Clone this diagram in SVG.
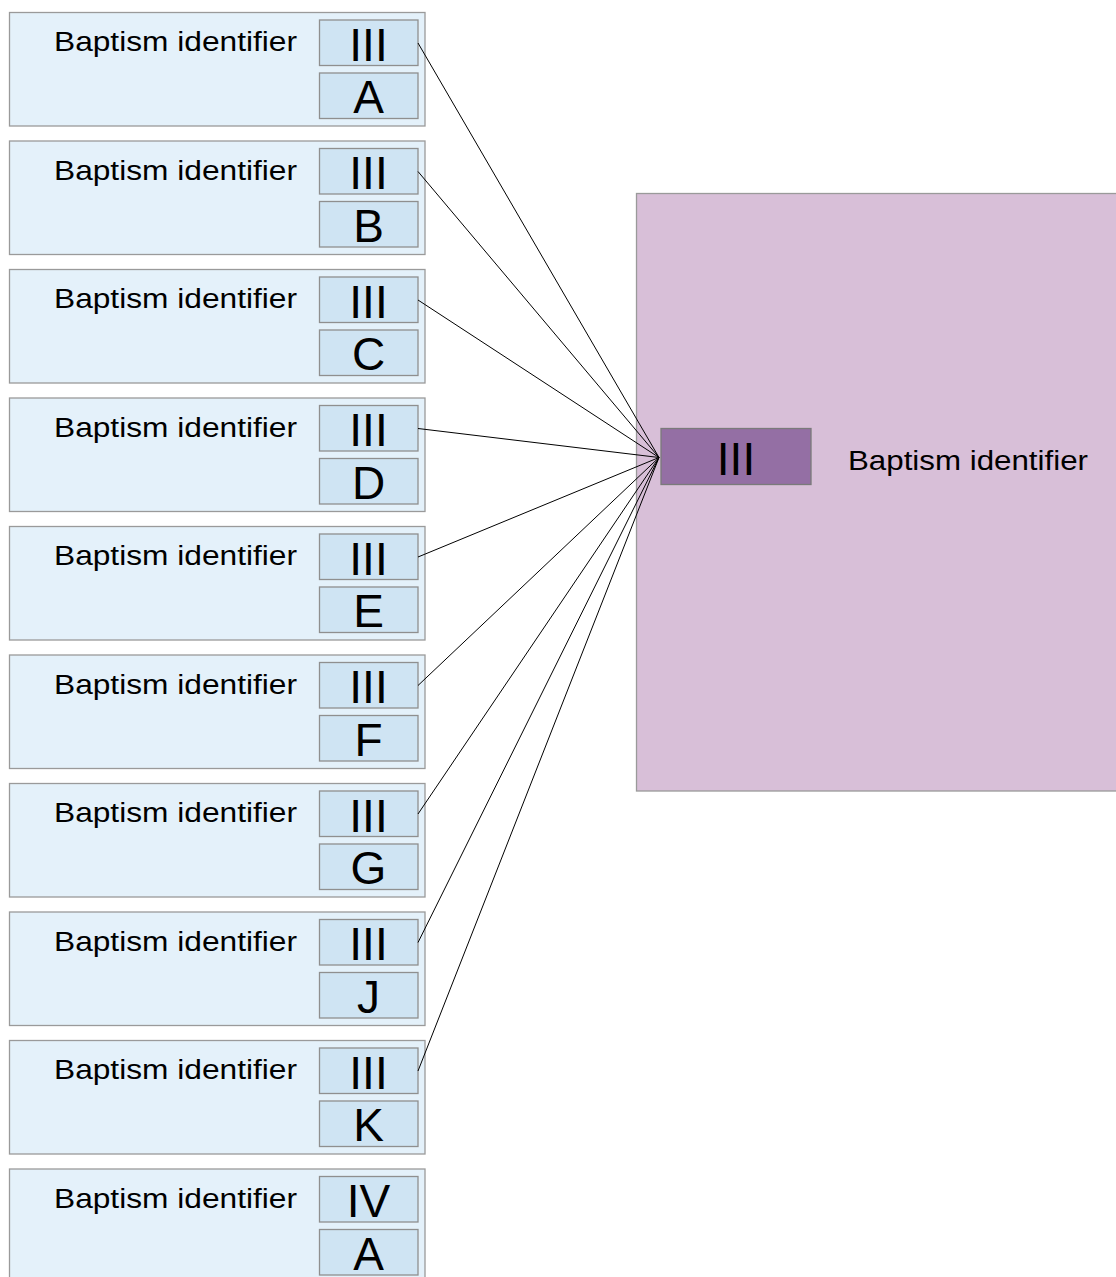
<svg xmlns="http://www.w3.org/2000/svg" width="1116" height="1277" viewBox="0 0 1116 1277">
<style>
.outer{fill:#e4f1fa;stroke:#9a9a9a;stroke-width:1.3}
.inner{fill:#cfe4f3;stroke:#8f8f8f;stroke-width:1.3}
.lbl{font-family:"Liberation Sans",Arial,sans-serif;font-size:27.5px;fill:#000}
.big{font-family:"Liberation Sans",Arial,sans-serif;font-size:46px;fill:#000;text-anchor:middle}
.conn{stroke:#000;stroke-width:1;fill:none}
</style>
<defs>
<rect id="ob" class="outer" x="9.5" y="0" width="415.5" height="113.5"/>
<rect id="ib1" class="inner" x="319.5" y="7.5" width="98.5" height="45.5"/>
<rect id="ib2" class="inner" x="319.5" y="60.5" width="98.5" height="45.5"/>
</defs>
<g id="target">
<rect x="636.5" y="193.5" width="490" height="597.5" fill="#d8bfd8" stroke="#9a9a9a" stroke-width="1.3"/>
<rect x="661" y="428.5" width="150" height="56" fill="#946fa4" stroke="#7a7a7a" stroke-width="1.3"/>
<text class="big" x="736" y="475">III</text>
<text class="lbl" x="848" y="470" textLength="240" lengthAdjust="spacingAndGlyphs">Baptism identifier</text>
</g>
<g id="n1" transform="translate(0,12.5)"><use href="#ob"/><use href="#ib1"/><use href="#ib2"/><text class="lbl" x="54" y="38.5" textLength="243" lengthAdjust="spacingAndGlyphs">Baptism identifier</text><text class="big" x="368.5" y="48">III</text><text class="big" x="368.5" y="100.5">A</text></g>
<g id="n2" transform="translate(0,141)"><use href="#ob"/><use href="#ib1"/><use href="#ib2"/><text class="lbl" x="54" y="38.5" textLength="243" lengthAdjust="spacingAndGlyphs">Baptism identifier</text><text class="big" x="368.5" y="48">III</text><text class="big" x="368.5" y="100.5">B</text></g>
<g id="n3" transform="translate(0,269.5)"><use href="#ob"/><use href="#ib1"/><use href="#ib2"/><text class="lbl" x="54" y="38.5" textLength="243" lengthAdjust="spacingAndGlyphs">Baptism identifier</text><text class="big" x="368.5" y="48">III</text><text class="big" x="368.5" y="100.5">C</text></g>
<g id="n4" transform="translate(0,398)"><use href="#ob"/><use href="#ib1"/><use href="#ib2"/><text class="lbl" x="54" y="38.5" textLength="243" lengthAdjust="spacingAndGlyphs">Baptism identifier</text><text class="big" x="368.5" y="48">III</text><text class="big" x="368.5" y="100.5">D</text></g>
<g id="n5" transform="translate(0,526.5)"><use href="#ob"/><use href="#ib1"/><use href="#ib2"/><text class="lbl" x="54" y="38.5" textLength="243" lengthAdjust="spacingAndGlyphs">Baptism identifier</text><text class="big" x="368.5" y="48">III</text><text class="big" x="368.5" y="100.5">E</text></g>
<g id="n6" transform="translate(0,655)"><use href="#ob"/><use href="#ib1"/><use href="#ib2"/><text class="lbl" x="54" y="38.5" textLength="243" lengthAdjust="spacingAndGlyphs">Baptism identifier</text><text class="big" x="368.5" y="48">III</text><text class="big" x="368.5" y="100.5">F</text></g>
<g id="n7" transform="translate(0,783.5)"><use href="#ob"/><use href="#ib1"/><use href="#ib2"/><text class="lbl" x="54" y="38.5" textLength="243" lengthAdjust="spacingAndGlyphs">Baptism identifier</text><text class="big" x="368.5" y="48">III</text><text class="big" x="368.5" y="100.5">G</text></g>
<g id="n8" transform="translate(0,912)"><use href="#ob"/><use href="#ib1"/><use href="#ib2"/><text class="lbl" x="54" y="38.5" textLength="243" lengthAdjust="spacingAndGlyphs">Baptism identifier</text><text class="big" x="368.5" y="48">III</text><text class="big" x="368.5" y="100.5">J</text></g>
<g id="n9" transform="translate(0,1040.5)"><use href="#ob"/><use href="#ib1"/><use href="#ib2"/><text class="lbl" x="54" y="38.5" textLength="243" lengthAdjust="spacingAndGlyphs">Baptism identifier</text><text class="big" x="368.5" y="48">III</text><text class="big" x="368.5" y="100.5">K</text></g>
<g id="n10" transform="translate(0,1169)"><use href="#ob"/><use href="#ib1"/><use href="#ib2"/><text class="lbl" x="54" y="38.5" textLength="243" lengthAdjust="spacingAndGlyphs">Baptism identifier</text><text class="big" x="368.5" y="48">IV</text><text class="big" x="368.5" y="100.5">A</text></g>
<g id="connectors">
<line class="conn" x1="418" y1="43" x2="659" y2="457.5"/>
<line class="conn" x1="418" y1="171.5" x2="659" y2="457.5"/>
<line class="conn" x1="418" y1="300" x2="659" y2="457.5"/>
<line class="conn" x1="418" y1="428.5" x2="659" y2="457.5"/>
<line class="conn" x1="418" y1="557" x2="659" y2="457.5"/>
<line class="conn" x1="418" y1="685.5" x2="659" y2="457.5"/>
<line class="conn" x1="418" y1="814" x2="659" y2="457.5"/>
<line class="conn" x1="418" y1="942.5" x2="659" y2="457.5"/>
<line class="conn" x1="418" y1="1071" x2="659" y2="457.5"/>
</g>
</svg>
